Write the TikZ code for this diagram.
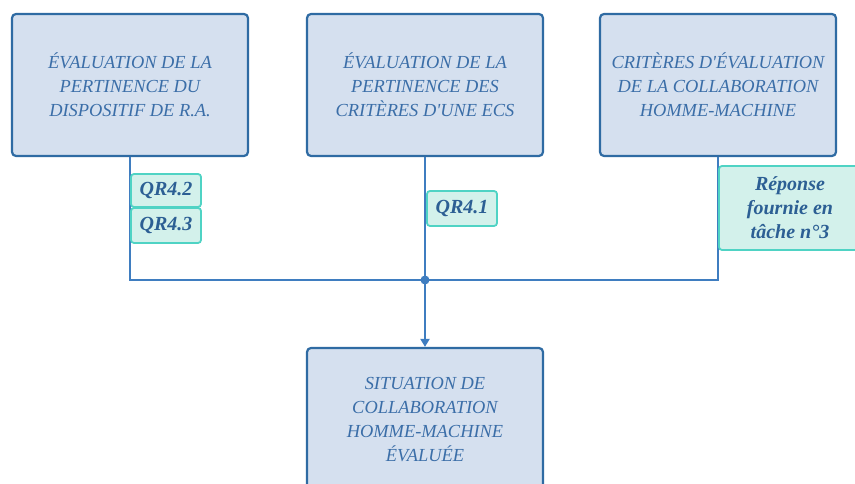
\documentclass[tikz,border=0pt]{standalone}
\usepackage{fontspec}
\setmainfont{Liberation Serif}
\usetikzlibrary{arrows.meta}
\definecolor{evalborder}{HTML}{2F6BA3}
\definecolor{evalfill}{HTML}{D5E0EF}
\definecolor{evaltext}{HTML}{3B6EA8}
\definecolor{wireblue}{HTML}{3F7DC0}
\definecolor{tagborder}{HTML}{4FD3C4}
\definecolor{tagfill}{HTML}{D3F1EB}
\definecolor{tagtext}{HTML}{2C5F94}
\tikzset{
  evalbox/.style={
    draw=evalborder,
    fill=evalfill,
    line width=2.2pt,
    rounded corners=4pt,
    align=center,
    text=evaltext,
    minimum width=236pt,
    minimum height=142pt,
    font=\fontsize{18.4}{24}\selectfont\itshape
  },
  evaltag/.style={draw=tagborder,fill=tagfill,line width=1.8pt,rounded corners=3pt,
                  align=center,text=tagtext,inner sep=0pt,
                  font=\fontsize{20}{24}\selectfont\bfseries\itshape},
  evalwire/.style={draw=wireblue,line width=2.8pt},
  evalarrow/.style={evalwire,-{Triangle[length=8pt,width=9pt]}}
}

\begin{document}
\begin{tikzpicture}[x=1pt,y=1pt]
  \clip (0,0) rectangle (855,484);

  \node[evalbox] (pertra) at (130,399) {ÉVALUATION DE LA\\PERTINENCE DU\\DISPOSITIF DE R.A.};
  \node[evalbox] (pertecs) at (425,399) {ÉVALUATION DE LA\\PERTINENCE DES\\CRITÈRES D\textquotesingle UNE ECS};
  \node[evalbox] (criteres) at (718,399) {CRITÈRES D\textquotesingle ÉVALUATION\\DE LA COLLABORATION\\HOMME-MACHINE};
  \node[evalbox,minimum height=144pt] (situation) at (425,64) {SITUATION DE\\COLLABORATION\\HOMME-MACHINE\\ÉVALUÉE};

  \coordinate (jleft) at (130,204);
  \coordinate (jmid) at (425,204);
  \coordinate (jright) at (718,204);

  \draw[evalwire] (pertra.south) -- (jleft) -- (jright) -- (criteres.south);
  \draw[evalwire] (pertecs.south) -- (jmid);
  \draw[evalarrow] (jmid) -- (situation.north);
  \fill[wireblue] (jmid) circle (4.5pt);

  \node[evaltag,minimum width=70pt,minimum height=33pt] (qr42) at (166,293.5) {QR4.2};
  \node[evaltag,minimum width=70pt,minimum height=35pt] (qr43) at (166,258.5) {QR4.3};
  \node[evaltag,minimum width=70pt,minimum height=35pt] (qr41) at (462,275.5) {QR4.1};
  \node[evaltag,minimum width=142pt,minimum height=84pt] (reponse) at (790,276) {Réponse\\fournie en\\tâche n°3};
\end{tikzpicture}
\end{document}
